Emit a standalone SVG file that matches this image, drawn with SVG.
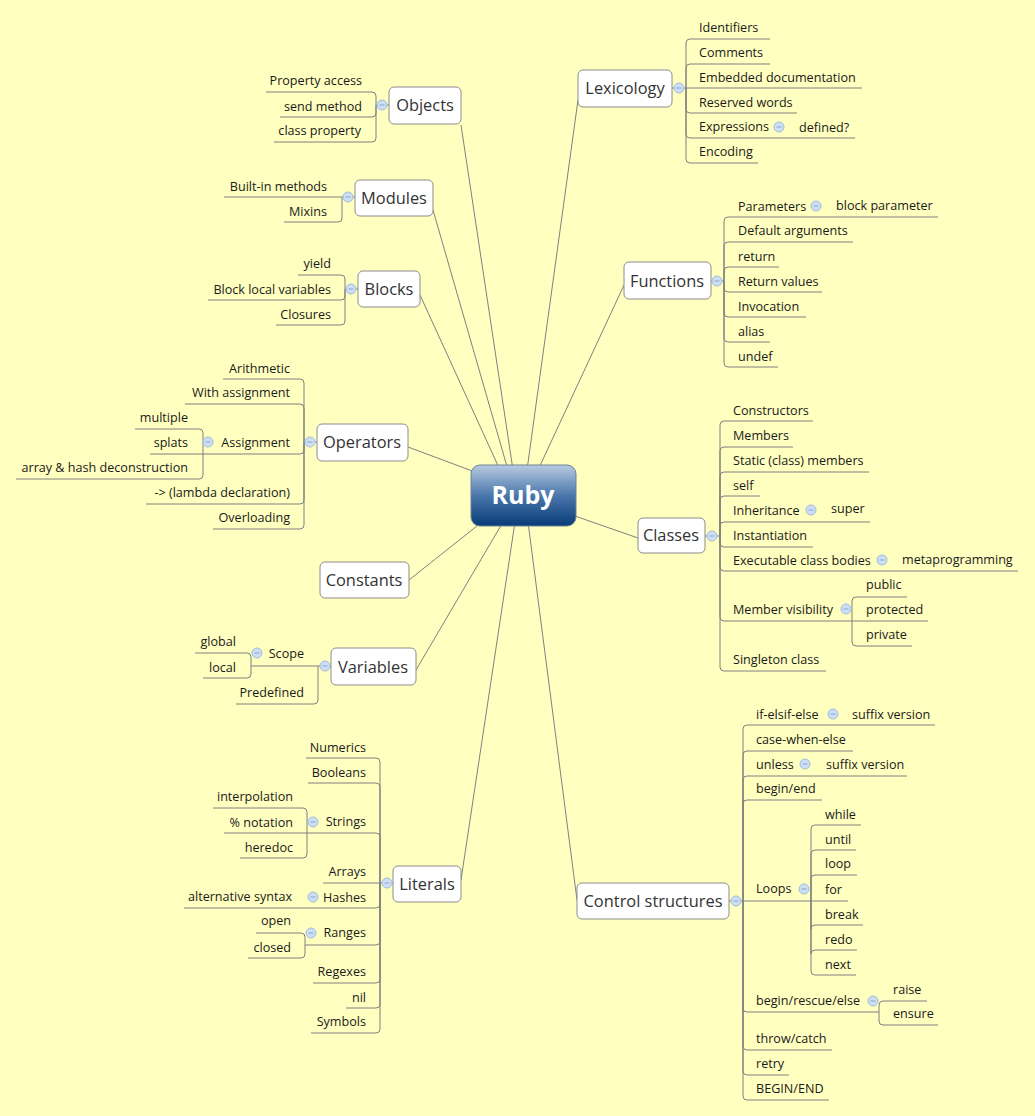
<svg xmlns="http://www.w3.org/2000/svg" width="1035" height="1116" viewBox="0 0 1035 1116">
<defs>
<linearGradient id="rg" x1="0" y1="0" x2="0" y2="1">
<stop offset="0" stop-color="#b8cbe2"/>
<stop offset="0.5" stop-color="#4a77ab"/>
<stop offset="1" stop-color="#083b78"/>
</linearGradient>
<g id="ic"><circle r="5" fill="#cddff5" stroke="#a3bbdc" stroke-width="1"/><path d="M-2.5,0 H2.5" stroke="#8aa5cf" stroke-width="1"/></g>
</defs>
<style>
.c{fill:none;stroke:#808080;stroke-width:1}
.t{font-family:"Open Sans","Noto Sans",sans-serif;font-size:12.6px;fill:#1a1a1a}
.e{text-anchor:end}
.m{font-family:"Open Sans","Noto Sans",sans-serif;font-size:16.4px;fill:#333;text-anchor:middle}
.n{fill:#fff;stroke:#8c8c8c;stroke-width:1}
</style>
<rect width="1035" height="1116" fill="#ffffc0"/>
<g id="connectors">
<path class="c" d="M578,100 L527,470 M461,125 L513,470 M433,210 L508,470 M420,295 L500,470 M624,285 L538,470 M408,447 L475,472 M638,538 L572,515 M409,580 L482,522 M416,670 L503,522 M461,880 L515,522 M577,900 L528,522"/>
<!-- Lexicology -->
<path class="c" d="M672,88 H686 M686,88 V43 Q686,39 690,39 H770 M686,88 V68 Q686,64 690,64 H770 M686,88 H862 M686,88 V109 Q686,113 690,113 H797 M686,88 V134 Q686,138 690,138 H855 M686,88 V159 Q686,163 690,163 H758"/>
<!-- Objects -->
<path class="c" d="M389,105 H376 M376,105 V96 Q376,92 372,92 H266 M376,105 V113 Q376,117 372,117 H280 M376,105 V138 Q376,142 372,142 H274"/>
<!-- Modules -->
<path class="c" d="M355,197 H342 M342,197 H224 M342,197 V218 Q342,222 338,222 H284"/>
<!-- Blocks -->
<path class="c" d="M358,289 H345 M345,289 V279 Q345,275 341,275 H298 M345,289 V296 Q345,300 341,300 H208 M345,289 V321 Q345,325 341,325 H276"/>
<!-- Operators -->
<path class="c" d="M317,442 H304 M304,442 V383 Q304,379 300,379 H223 M304,442 V408 Q304,404 300,404 H185 M304,442 V450 Q304,454 300,454 H203 M304,442 V500 Q304,504 300,504 H146 M304,442 V525 Q304,529 300,529 H213"/>
<path class="c" d="M203,454 V433 Q203,429 199,429 H135 M203,454 H150 M203,454 V475 Q203,479 199,479 H16"/>
<!-- Variables -->
<path class="c" d="M331,666 H318 M318,666 H251 M318,666 V700 Q318,704 314,704 H236"/>
<path class="c" d="M251,666 V657 Q251,653 247,653 H195 M251,666 V674 Q251,678 247,678 H203"/>
<!-- Literals -->
<path class="c" d="M393,883 H380 M380,883 V762 Q380,758 376,758 H306 M380,883 V787 Q380,783 376,783 H308 M380,883 V837 Q380,833 376,833 H224 M380,883 H323 M380,883 V904 Q380,908 376,908 H184 M380,883 V941 Q380,945 376,945 H305 M380,883 V979 Q380,983 376,983 H313 M380,883 V1004 Q380,1008 376,1008 H346 M380,883 V1029 Q380,1033 376,1033 H311"/>
<path class="c" d="M307,833 V812 Q307,808 303,808 H213 M307,833 V854 Q307,858 303,858 H240"/>
<path class="c" d="M305,945 V937 Q305,933 301,933 H256 M305,945 V954 Q305,958 301,958 H248"/>
<!-- Functions -->
<path class="c" d="M711,281 H724 M724,281 V221 Q724,217 728,217 H938 M724,281 V246 Q724,242 728,242 H853 M724,281 V271 Q724,267 728,267 H779 M724,281 V288 Q724,292 728,292 H822 M724,281 V313 Q724,317 728,317 H806 M724,281 V338 Q724,342 728,342 H770 M724,281 V363 Q724,367 728,367 H778"/>
<!-- Classes -->
<path class="c" d="M705,536 H720 M720,536 V425 Q720,421 724,421 H813 M720,536 V451 Q720,447 724,447 H793 M720,536 V476 Q720,472 724,472 H869 M720,536 V500 Q720,496 724,496 H760 M720,536 V526 Q720,522 724,522 H870 M720,536 V543 Q720,547 724,547 H813 M720,536 V567 Q720,571 724,571 H1018 M720,536 V617 Q720,621 724,621 H852 M720,536 V667 Q720,671 724,671 H826"/>
<path class="c" d="M852,621 V601 Q852,597 856,597 H907 M852,621 H928 M852,621 V642 Q852,646 856,646 H912"/>
<!-- Control structures -->
<path class="c" d="M729,901 H743 M743,901 V729 Q743,725 747,725 H935 M743,901 V755 Q743,751 747,751 H853 M743,901 V780 Q743,776 747,776 H907 M743,901 V804 Q743,800 747,800 H822 M743,901 H848 M743,901 V1008 Q743,1012 747,1012 H879 M743,901 V1046 Q743,1050 747,1050 H832 M743,901 V1071 Q743,1075 747,1075 H789 M743,901 V1096 Q743,1100 747,1100 H829"/>
<path class="c" d="M811,901 V829 Q811,825 815,825 H861 M811,901 V854 Q811,850 815,850 H856 M811,901 V879 Q811,875 815,875 H857 M811,901 V929 Q811,925 815,925 H863 M811,901 V954 Q811,950 815,950 H857 M811,901 V971 Q811,975 815,975 H856"/>
<path class="c" d="M879,1012 V1005 Q879,1001 883,1001 H927 M879,1012 V1021 Q879,1025 883,1025 H938"/>
</g>
<g id="ruby"><rect x="471" y="465" width="105" height="61" rx="9" fill="url(#rg)" stroke="#6f8296"/><text x="523" y="504" font-family="'Open Sans','Noto Sans',sans-serif" font-size="25" font-weight="bold" fill="#fff" text-anchor="middle">Ruby</text></g>
<g id="lexicology"><rect class="n" x="578" y="70" width="94" height="37" rx="5"/><text class="m" x="625" y="94">Lexicology</text><use href="#ic" x="679" y="88"/>
<text class="t" x="699" y="32">Identifiers</text><text class="t" x="699" y="57">Comments</text><text class="t" x="699" y="82">Embedded documentation</text><text class="t" x="699" y="107">Reserved words</text><text class="t" x="699" y="131">Expressions</text><use href="#ic" x="779" y="127"/><text class="t" x="799" y="132">defined?</text><text class="t" x="699" y="156">Encoding</text></g>
<g id="objects"><rect class="n" x="389" y="87" width="72" height="37" rx="5"/><text class="m" x="425" y="111">Objects</text><use href="#ic" x="382" y="105"/>
<text class="t e" x="362" y="85">Property access</text><text class="t e" x="362" y="111">send method</text><text class="t e" x="361" y="135">class property</text></g>
<g id="modules"><rect class="n" x="355" y="180" width="78" height="36" rx="5"/><text class="m" x="394" y="204">Modules</text><use href="#ic" x="348" y="197"/>
<text class="t e" x="327" y="191">Built-in methods</text><text class="t e" x="327" y="216">Mixins</text></g>
<g id="blocks"><rect class="n" x="358" y="271" width="62" height="36" rx="5"/><text class="m" x="389" y="295">Blocks</text><use href="#ic" x="351" y="289"/>
<text class="t e" x="331" y="268">yield</text><text class="t e" x="331" y="294">Block local variables</text><text class="t e" x="331" y="319">Closures</text></g>
<g id="operators"><rect class="n" x="317" y="424" width="91" height="37" rx="5"/><text class="m" x="362" y="448">Operators</text><use href="#ic" x="310" y="442"/>
<text class="t e" x="290" y="373">Arithmetic</text><text class="t e" x="290" y="397">With assignment</text><text class="t e" x="290" y="447">Assignment</text><use href="#ic" x="208" y="442"/><text class="t e" x="290" y="497">-&gt; (lambda declaration)</text><text class="t e" x="290" y="522">Overloading</text>
<text class="t e" x="188" y="422">multiple</text><text class="t e" x="188" y="447">splats</text><text class="t e" x="188" y="472">array &amp; hash deconstruction</text></g>
<g id="constants"><rect class="n" x="320" y="562" width="89" height="36" rx="5"/><text class="m" x="364" y="586">Constants</text></g>
<g id="variables"><rect class="n" x="331" y="648" width="85" height="37" rx="5"/><text class="m" x="373" y="673">Variables</text><use href="#ic" x="325" y="666"/>
<text class="t e" x="304" y="658">Scope</text><use href="#ic" x="257" y="653"/><text class="t e" x="304" y="697">Predefined</text>
<text class="t e" x="236" y="646">global</text><text class="t e" x="236" y="672">local</text></g>
<g id="literals"><rect class="n" x="393" y="866" width="68" height="36" rx="5"/><text class="m" x="427" y="890">Literals</text><use href="#ic" x="387" y="883"/>
<text class="t e" x="366" y="752">Numerics</text><text class="t e" x="366" y="777">Booleans</text><text class="t e" x="366" y="826">Strings</text><use href="#ic" x="313" y="822"/><text class="t e" x="366" y="876">Arrays</text><text class="t e" x="366" y="902">Hashes</text><use href="#ic" x="313" y="897"/><text class="t e" x="366" y="937">Ranges</text><use href="#ic" x="311" y="933"/><text class="t e" x="366" y="976">Regexes</text><text class="t e" x="366" y="1002">nil</text><text class="t e" x="366" y="1026">Symbols</text>
<text class="t e" x="293" y="801">interpolation</text><text class="t e" x="293" y="827">% notation</text><text class="t e" x="293" y="852">heredoc</text><text class="t e" x="292" y="901">alternative syntax</text><text class="t e" x="291" y="925">open</text><text class="t e" x="291" y="952">closed</text></g>
<g id="functions"><rect class="n" x="624" y="262" width="87" height="37" rx="5"/><text class="m" x="667" y="287">Functions</text><use href="#ic" x="717" y="281"/>
<text class="t" x="738" y="211">Parameters</text><use href="#ic" x="816" y="206"/><text class="t" x="836" y="210">block parameter</text><text class="t" x="738" y="235">Default arguments</text><text class="t" x="738" y="261">return</text><text class="t" x="738" y="286">Return values</text><text class="t" x="738" y="311">Invocation</text><text class="t" x="738" y="336">alias</text><text class="t" x="738" y="361">undef</text></g>
<g id="classes"><rect class="n" x="638" y="518" width="67" height="35" rx="5"/><text class="m" x="671" y="541">Classes</text><use href="#ic" x="712" y="536"/>
<text class="t" x="733" y="415">Constructors</text><text class="t" x="733" y="440">Members</text><text class="t" x="733" y="465">Static (class) members</text><text class="t" x="733" y="490">self</text><text class="t" x="733" y="515">Inheritance</text><use href="#ic" x="811" y="510"/><text class="t" x="831" y="513">super</text><text class="t" x="733" y="540">Instantiation</text><text class="t" x="733" y="565">Executable class bodies</text><use href="#ic" x="882" y="560"/><text class="t" x="902" y="564">metaprogramming</text><text class="t" x="733" y="614">Member visibility</text><use href="#ic" x="846" y="609"/><text class="t" x="733" y="664">Singleton class</text>
<text class="t" x="866" y="589">public</text><text class="t" x="866" y="614">protected</text><text class="t" x="866" y="639">private</text></g>
<g id="control"><rect class="n" x="577" y="883" width="152" height="36" rx="5"/><text class="m" x="653" y="907">Control structures</text><use href="#ic" x="736" y="901"/>
<text class="t" x="756" y="719">if-elsif-else</text><use href="#ic" x="833" y="714"/><text class="t" x="852" y="719">suffix version</text><text class="t" x="756" y="744">case-when-else</text><text class="t" x="756" y="769">unless</text><use href="#ic" x="805" y="764"/><text class="t" x="826" y="769">suffix version</text><text class="t" x="756" y="793">begin/end</text><text class="t" x="756" y="893">Loops</text><use href="#ic" x="804" y="889"/><text class="t" x="756" y="1005">begin/rescue/else</text><use href="#ic" x="873" y="1001"/><text class="t" x="756" y="1043">throw/catch</text><text class="t" x="756" y="1068">retry</text><text class="t" x="756" y="1093">BEGIN/END</text>
<text class="t" x="825" y="819">while</text><text class="t" x="825" y="844">until</text><text class="t" x="825" y="868">loop</text><text class="t" x="825" y="894">for</text><text class="t" x="825" y="919">break</text><text class="t" x="825" y="944">redo</text><text class="t" x="825" y="969">next</text>
<text class="t" x="893" y="994">raise</text><text class="t" x="893" y="1018">ensure</text></g>
</svg>
